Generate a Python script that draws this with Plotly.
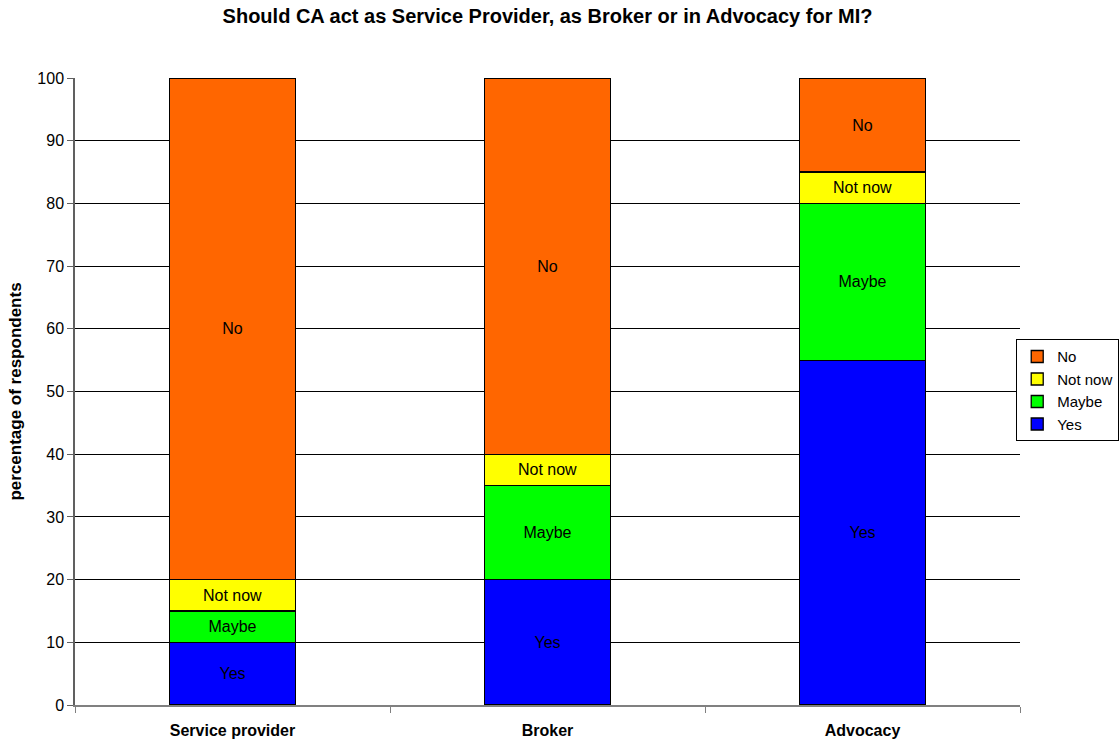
import plotly.graph_objects as go

categories = ["Service provider", "Broker", "Advocacy"]
series_names = ["Yes", "Maybe", "Not now", "No"]
yes_vals = [10, 20, 55]
maybe_vals = [5, 15, 25]
notnow_vals = [5, 5, 5]
no_vals = [80, 60, 15]
y_ticks = list(range(0, 101, 10))

colors = {"Yes": "#0000FF", "Maybe": "#00FF00", "Not now": "#FFFF00", "No": "#FF6600"}
values = {"Yes": yes_vals, "Maybe": maybe_vals, "Not now": notnow_vals, "No": no_vals}

FONT = "Liberation Sans, Arial, sans-serif"

fig = go.Figure()
for name in series_names:
    fig.add_trace(go.Bar(
        x=categories, y=values[name], name=name, legendgroup=name,
        marker=dict(color=colors[name], line=dict(color="black", width=1.3)),
        text=[name] * len(categories), texttemplate="%{text}",
        textposition="inside", insidetextanchor="middle", textangle=0,
        textfont=dict(family=FONT, size=16, color="black"),
        constraintext="none", hoverinfo="y+name",
    ))

fig.update_layout(
    barmode="stack", bargap=0.6,
    width=1119, height=740,
    margin=dict(l=75, r=99, t=78, b=35, autoexpand=False),
    paper_bgcolor="white", plot_bgcolor="white",
    font=dict(family=FONT, size=16, color="black"),
    title=dict(text="<b>Should CA act as Service Provider, as Broker or in Advocacy for MI?</b>",
               x=0.5, xref="paper", xanchor="center", y=0.978, yanchor="middle",
               font=dict(size=20)),
    legend=dict(traceorder="reversed", x=0.996, xanchor="left", y=0.502, yanchor="middle",
                bordercolor="black", borderwidth=1, font=dict(size=15),
                itemwidth=30, tracegroupgap=3),
    showlegend=True,
)
fig.update_xaxes(
    type="category", showgrid=False, showline=True, linecolor="#808080", linewidth=1.5,
    ticks="outside", tickson="boundaries", ticklen=6, tickcolor="#808080",
    tickfont=dict(size=16), ticklabelstandoff=10,
    tickprefix="<b>", ticksuffix="</b>",
)
fig.update_yaxes(
    range=[0, 100], tickvals=y_ticks, showgrid=True, gridcolor="black", gridwidth=1,
    showline=True, linecolor="#606060", linewidth=1.5, ticks="outside", ticklen=6,
    tickcolor="#606060", tickfont=dict(size=16), zeroline=False,
    title=dict(text="<b>percentage of respondents</b>", font=dict(size=17), standoff=11),
)
fig.write_html("out.html", config={"displayModeBar": False},
               post_script="document.body.style.margin='0px';document.body.style.overflow='hidden';")
